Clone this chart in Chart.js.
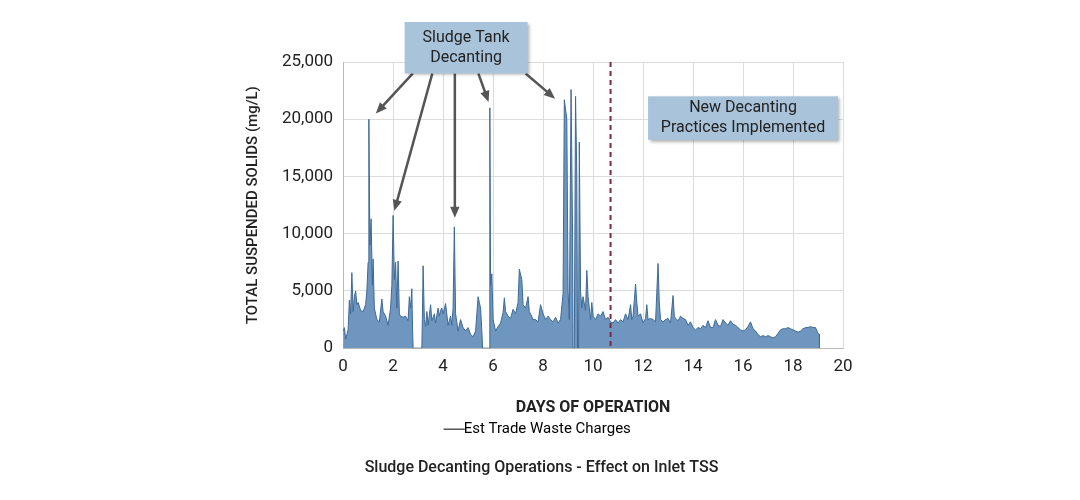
<!DOCTYPE html>
<html>
<head>
<meta charset="utf-8">
<script src="https://cdn.jsdelivr.net/npm/chart.js@4/dist/chart.umd.min.js"></script>
<style>
  html, body { margin: 0; background: #fff; }
  #wrap { width: 1080px; height: 500px; }
</style>
</head>
<body>
<div id="wrap"><canvas id="tssChart"></canvas></div>
<script>
// days of operation and inlet TSS (mg/L)
var days = [0,0.05,0.1,0.15,0.2,0.25,0.3,0.35,0.4,0.45,0.5,0.55,0.6,0.7,0.8,0.9,0.95,1.0,1.03,1.07,1.12,1.17,1.2,1.25,1.35,1.45,1.55,1.6,1.7,1.8,1.9,1.95,2.0,2.05,2.1,2.15,2.2,2.25,2.3,2.4,2.5,2.6,2.65,2.7,2.75,2.78,2.8,3.15,3.17,3.2,3.25,3.3,3.35,3.4,3.5,3.55,3.65,3.7,3.8,3.85,3.9,3.95,4.0,4.1,4.2,4.3,4.35,4.4,4.45,4.5,4.6,4.7,4.8,4.9,5.0,5.1,5.2,5.3,5.4,5.45,5.5,5.55,5.58,5.85,5.87,5.9,5.95,6.0,6.1,6.2,6.3,6.4,6.45,6.5,6.6,6.7,6.8,6.9,7.0,7.05,7.15,7.2,7.3,7.4,7.45,7.5,7.6,7.7,7.8,7.9,8.0,8.1,8.2,8.3,8.4,8.5,8.6,8.7,8.8,8.85,8.95,9.0,9.05,9.12,9.18,9.2,9.25,9.3,9.35,9.38,9.42,9.45,9.5,9.55,9.6,9.7,9.75,9.8,9.9,9.95,10.0,10.1,10.2,10.3,10.4,10.5,10.6,10.7,10.8,10.9,11.0,11.1,11.2,11.3,11.4,11.5,11.55,11.6,11.7,11.75,11.8,11.9,12.0,12.1,12.15,12.2,12.3,12.4,12.5,12.6,12.65,12.7,12.8,12.9,13.0,13.1,13.2,13.25,13.3,13.4,13.5,13.6,13.7,13.8,13.9,14.0,14.1,14.2,14.3,14.4,14.5,14.6,14.7,14.8,14.9,15.0,15.1,15.2,15.3,15.4,15.5,15.6,15.7,15.8,15.9,16.0,16.1,16.2,16.3,16.4,16.5,16.6,16.7,16.8,16.9,17.0,17.1,17.2,17.3,17.4,17.5,17.6,17.7,17.8,17.9,18.0,18.1,18.2,18.3,18.4,18.5,18.6,18.7,18.8,18.9,19.0,19.05,19.06];
var tss = [1500,1800,800,1200,1600,4200,3000,6600,3200,4500,5000,3800,4000,3300,3200,3800,5000,7500,20000,9000,11300,5500,7800,3500,2500,2300,4300,3200,2800,2000,3500,5500,11600,6000,7500,3500,7600,3000,2800,2700,2800,2400,4500,3500,5200,1500,0,0,2500,7200,2500,1900,3200,2000,3800,2400,3000,2200,3500,2800,3300,3500,3000,3900,2000,2800,2000,3500,10600,3000,1500,2500,1800,1500,1800,1200,1000,1500,4500,4000,3500,1500,0,0,21000,5500,6500,2500,1500,1900,2200,3100,4400,3200,2800,2600,3400,3000,4000,6900,6000,3800,3500,4500,3200,3000,2500,2500,2300,3800,3000,2500,2800,2500,2300,2700,2200,2500,4800,21700,20000,5000,2500,22600,10000,0,0,22000,15000,0,0,18000,5000,3500,4500,3300,6800,4500,2500,4000,2800,2500,3000,2800,3200,2500,2700,2300,2200,2500,2200,2500,2300,3000,2500,3800,2500,2800,5600,4000,2800,3000,2200,2600,3800,2500,2600,2500,2300,7400,4000,2500,2300,2500,2600,2200,4600,2800,2600,2400,2800,2600,2500,2000,2300,1800,1600,1800,1700,2000,1800,2400,1800,1800,2500,2000,1900,2500,2200,2000,2400,2100,2000,1800,1600,1500,1600,1900,2300,1700,1500,1200,1000,1100,1000,1100,1000,900,1000,1300,1600,1700,1700,1800,1700,1600,1500,1400,1500,1700,1800,1800,1900,1800,1800,1300,1200,0];
var xTicks = [0,2,4,6,8,10,12,14,16,18,20];
var yTicks = [0,5000,10000,15000,20000,25000];

// annotation content (positions in data units)
var arrowStarts = [[2.79,24000],[3.57,24000],[4.47,24000],[5.41,24000],[7.3,24000]];
var arrowEnds   = [[1.31,20500],[2.05,12000],[4.47,11400],[5.82,21500],[8.48,21800]];
var decantLine = 10.7;

var points = days.map(function(d, i){ return {x: d, y: tss[i]}; });

function drawBox(ctx, x1, y1, x2, y2, lines){
  ctx.save();
  ctx.shadowColor = 'rgba(0,0,0,0.3)';
  ctx.shadowBlur = 3;
  ctx.shadowOffsetX = 2;
  ctx.shadowOffsetY = 2;
  ctx.fillStyle = '#a9c3da';
  ctx.fillRect(x1, y1, x2 - x1, y2 - y1);
  ctx.restore();
  ctx.fillStyle = '#222';
  ctx.font = '16px Roboto';
  ctx.textAlign = 'center';
  ctx.textBaseline = 'middle';
  var cy = (y1 + y2) / 2, lh = 20;
  lines.forEach(function(t, i){
    ctx.fillText(t, (x1 + x2) / 2, cy + (i - (lines.length - 1) / 2) * lh);
  });
}

var annotations = {
  id: 'annotations',
  afterDatasetsDraw: function(chart){
    var ctx = chart.ctx, xs = chart.scales.x, ys = chart.scales.y, a = chart.chartArea;
    ctx.save();
    // dashed marker line
    var lx = xs.getPixelForValue(decantLine);
    ctx.strokeStyle = '#7a2a45';
    ctx.lineWidth = 2;
    ctx.setLineDash([5, 4]);
    ctx.beginPath(); ctx.moveTo(lx, a.top); ctx.lineTo(lx, a.bottom); ctx.stroke();
    ctx.setLineDash([]);
    // arrows
    ctx.strokeStyle = '#555';
    ctx.fillStyle = '#555';
    ctx.lineWidth = 2.5;
    arrowStarts.forEach(function(s, i){
      var x1 = xs.getPixelForValue(s[0]), y1 = ys.getPixelForValue(s[1]);
      var x2 = xs.getPixelForValue(arrowEnds[i][0]), y2 = ys.getPixelForValue(arrowEnds[i][1]);
      var ang = Math.atan2(y2 - y1, x2 - x1), hl = 12;
      ctx.beginPath(); ctx.moveTo(x1, y1);
      ctx.lineTo(x2 - Math.cos(ang) * hl * 0.8, y2 - Math.sin(ang) * hl * 0.8); ctx.stroke();
      ctx.beginPath();
      ctx.moveTo(x2, y2);
      ctx.lineTo(x2 - hl * Math.cos(ang - 0.4), y2 - hl * Math.sin(ang - 0.4));
      ctx.lineTo(x2 - hl * Math.cos(ang + 0.4), y2 - hl * Math.sin(ang + 0.4));
      ctx.closePath(); ctx.fill();
    });
    drawBox(ctx, xs.getPixelForValue(2.46), ys.getPixelForValue(28500),
            xs.getPixelForValue(7.38), ys.getPixelForValue(24000), ['Sludge Tank', 'Decanting']);
    drawBox(ctx, xs.getPixelForValue(12.2), ys.getPixelForValue(22000),
            xs.getPixelForValue(19.8), ys.getPixelForValue(18200), ['New Decanting', 'Practices Implemented']);
    ctx.restore();
  }
};

new Chart(document.getElementById('tssChart').getContext('2d'), {
  type: 'line',
  data: {
    datasets: [{
      label: 'Est Trade Waste Charges',
      data: points,
      fill: true,
      backgroundColor: '#6e96bf',
      borderColor: '#3f6a96',
      borderWidth: 1,
      pointRadius: 0,
      tension: 0,
    }],
  },
  options: {
    responsive: true,
    maintainAspectRatio: false,
    animation: false,
    layout: { padding: { left: 240, right: 237, top: 62, bottom: 22 } },
    scales: {
      x: {
        type: 'linear', min: 0, max: 20,
        afterBuildTicks: function(s){ s.ticks = xTicks.map(function(v){ return {value: v}; }); },
        grid: { color: '#dcdcdc', drawTicks: false },
        border: { color: '#bbb' },
        ticks: { color: '#222', font: { family: 'Roboto', size: 17 }, padding: 8 },
        title: { display: true, text: 'DAYS OF OPERATION', color: '#222',
                 font: { family: 'Roboto', size: 16, weight: 'bold' }, padding: { top: 14, bottom: 0 } },
      },
      y: {
        min: 0, max: 25000,
        afterBuildTicks: function(s){ s.ticks = yTicks.map(function(v){ return {value: v}; }); },
        grid: { color: '#dcdcdc', drawTicks: false },
        border: { color: '#bbb' },
        ticks: { color: '#222', font: { family: 'Roboto', size: 17 }, padding: 10,
                 callback: function(v){ return v.toLocaleString('en-US'); } },
        title: { display: true, text: 'TOTAL SUSPENDED SOLIDS (mg/L)', color: '#222',
                 font: { family: 'Roboto', size: 15, weight: '500' }, padding: { bottom: 10 } },
      },
    },
    plugins: {
      legend: {
        position: 'bottom',
        labels: {
          color: '#333', font: { family: 'Roboto', size: 15 },
          usePointStyle: true, pointStyle: 'line', boxWidth: 4, padding: 4,
          generateLabels: function(chart){
            return [{ text: 'Est Trade Waste Charges', strokeStyle: '#555', fillStyle: '#555',
                      lineWidth: 1.5, pointStyle: 'line', datasetIndex: 0 }];
          },
        },
      },
      title: {
        display: true, position: 'bottom', text: 'Sludge Decanting Operations - Effect on Inlet TSS',
        color: '#222', font: { family: 'Roboto', size: 16, weight: '500' }, padding: { top: 12, bottom: 0 },
      },
      tooltip: { enabled: false },
    },
  },
  plugins: [annotations],
});
</script>
</body>
</html>
